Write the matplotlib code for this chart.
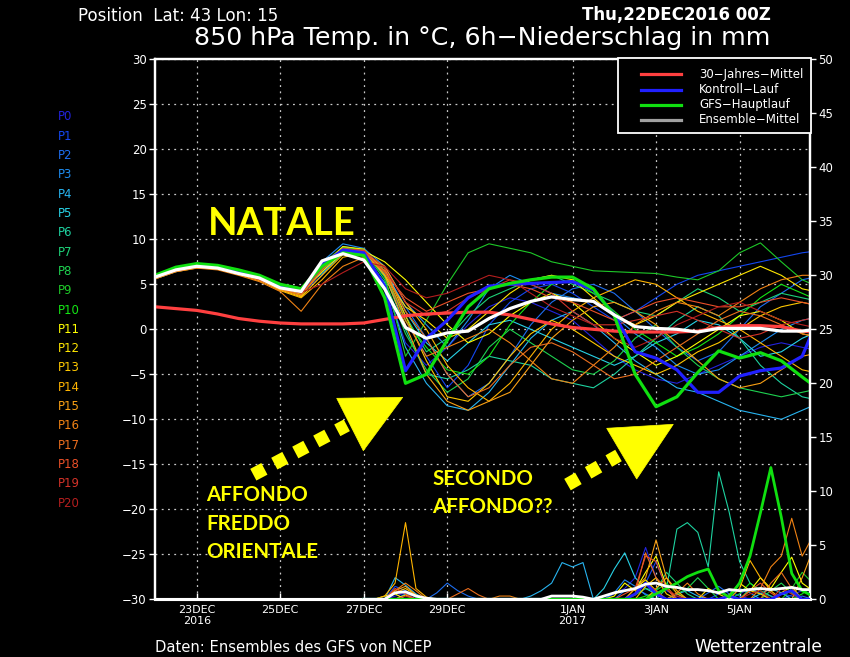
import matplotlib
matplotlib.use("Agg")
import matplotlib.pyplot as plt
from matplotlib.patches import Polygon, Rectangle
from matplotlib.lines import Line2D

W, H = 850, 657

# ---------------- data ----------------
HOURS = list(range(0, 385, 12))          # 12-hourly temperature steps from 22DEC2016 00Z
PRECIP_HOURS = list(range(120, 385, 6))  # 6-hourly precipitation steps

XTICK_HOURS = [24, 72, 120, 168, 240, 288, 336]
XTICK_LABELS = ["23DEC\n2016", "25DEC", "27DEC", "29DEC", "1JAN\n2017", "3JAN", "5JAN"]
YTICKS_T = [-30, -25, -20, -15, -10, -5, 0, 5, 10, 15, 20, 25, 30]
YTICKS_P = [0, 5, 10, 15, 20, 25, 30, 35, 40, 45, 50]

MEMBER_NAMES = ["P0", "P1", "P2", "P3", "P4", "P5", "P6", "P7", "P8", "P9", "P10",
                "P11", "P12", "P13", "P14", "P15", "P16", "P17", "P18", "P19", "P20"]
MEMBER_COLORS = ["#2323DC", "#1447F0", "#1E6EF0", "#1E8CF0", "#28B4F0", "#28D2E6",
                 "#1ED2A0", "#1ED278", "#1ED250", "#1EC828", "#14E614", "#FFFF00",
                 "#FFE600", "#FFC800", "#FFB400", "#FAA014", "#F08214", "#EB6E1E",
                 "#EB5028", "#D23228", "#B41E1E"]

T_P0 = [5.7, 6.5, 6.9, 6.8, 6.3, 5.6, 4.7, 4.0, 6.0, 8.8, 8.5, 5.0,
        -1.5, -4.0, -2.0, 0.5, 2.5, 3.5, 3.0, 2.0, 1.0, -1.0, -3.0, -4.5, -5.5, -6.0, -5.0, -4.0, -3.0, -2.0, -1.5, -2.0, -2.5]
T_P1 = [5.8, 6.6, 7.0, 6.9, 6.4, 5.8, 4.9, 4.4, 7.0, 9.0, 8.7, 6.0,
        1.0, -3.0, -6.5, -4.0, 0.5, 3.0, 4.5, 5.0, 4.0, 2.5, 1.0, 2.0, 3.5, 5.0, 6.0, 6.5, 7.0, 7.5, 8.0, 8.5, 8.8]
T_P2 = [5.9, 6.7, 7.1, 7.0, 6.5, 5.7, 4.6, 3.8, 6.8, 9.2, 8.8, 6.5,
        2.5, -1.0, -5.0, -7.5, -6.0, -3.0, 0.5, 3.0, 4.5, 5.0, 4.0, 2.0, 0.0, -2.0, -3.5, -2.5, 0.0, 2.5, 4.0, 5.5, 6.0]
T_P3 = [5.6, 6.4, 6.9, 6.8, 6.2, 5.5, 4.5, 4.0, 7.5, 9.5, 9.0, 7.0,
        3.0, 0.5, -2.0, 1.0, 4.5, 6.0, 5.0, 4.0, 3.5, 3.0, 1.5, -0.5, -2.0, -4.0, -5.0, -4.5, -3.0, -1.5, 0.0, 1.0, 1.5]
T_P4 = [5.8, 6.5, 6.9, 6.9, 6.4, 5.8, 5.0, 4.5, 6.2, 8.5, 8.2, 5.2,
        -2.0, -6.0, -8.5, -9.0, -7.0, -4.0, -1.0, 1.0, 2.0, 0.5, -1.5, -3.5, -5.0, -6.5, -7.0, -8.0, -9.0, -9.5, -10.0, -9.0, -8.0]
T_P5 = [5.7, 6.5, 7.0, 6.8, 6.3, 5.6, 4.8, 4.2, 6.6, 8.7, 8.4, 6.8,
        2.0, -1.5, -3.5, -1.5, 0.5, 1.0, 0.0, -1.0, -2.0, -3.0, -4.0, -3.0, -1.5, -0.5, 1.0, 0.5, -1.0, -3.0, -2.5, -1.0, 0.0]
T_P6 = [5.9, 6.6, 7.0, 6.9, 6.5, 5.8, 4.9, 4.5, 7.2, 8.9, 8.6, 6.2,
        0.0, -5.0, -5.5, -4.5, -3.0, -3.5, -4.0, -5.5, -6.0, -6.5, -5.0, -3.0, -1.0, 1.0, 2.5, 1.5, -1.0, -4.0, -6.0, -7.5, -8.0]
T_P7 = [5.8, 6.6, 7.1, 7.0, 6.4, 5.7, 4.7, 4.3, 6.9, 9.0, 8.8, 5.8,
        1.5, -2.5, -1.0, 1.5, 3.5, 4.5, 5.5, 6.0, 5.0, 4.0, 3.0, 2.0, 1.5, 3.0, 4.5, 3.5, 2.0, 3.0, 4.0, 3.5, 3.0]
T_P8 = [5.9, 6.7, 7.2, 7.0, 6.5, 5.8, 4.8, 4.4, 6.7, 8.8, 8.7, 5.5,
        -0.5, -4.5, -7.0, -5.5, -2.0, 0.0, -1.5, -3.0, -4.5, -5.0, -3.5, -1.0, 0.5, -2.0, -4.0, -5.5, -6.5, -7.0, -7.5, -7.0, -6.5]
T_P9 = [5.7, 6.6, 7.0, 6.9, 6.3, 5.7, 4.7, 4.2, 6.8, 8.6, 8.5, 6.0,
        -3.0, 1.0, 5.0, 8.5, 9.5, 9.0, 8.5, 7.5, 7.0, 6.5, 6.4, 6.3, 6.2, 5.8, 5.5, 6.5, 8.5, 9.6, 7.5, 5.5, 4.5]
T_P10 = [5.8, 6.7, 7.2, 7.1, 6.6, 5.9, 5.0, 4.6, 7.3, 9.1, 8.9, 6.5,
         1.0, -2.0, -4.5, -5.0, -3.0, 0.5, 3.0, 5.0, 5.5, 4.0, 2.0, 0.0, -1.5, -3.0, -2.0, -0.5, 1.5, 3.5, 5.0, 4.0, 3.0]
T_P11 = [5.8, 6.6, 7.0, 6.9, 6.4, 5.6, 4.5, 3.9, 6.4, 8.5, 8.7, 7.5,
         5.5, 3.0, 0.5, -1.5, -0.5, 1.5, 3.0, 4.0, 3.0, 1.0, -1.0, -2.5, -4.0, -3.0, -1.5, 0.0, 1.5, 2.0, 1.0, -0.5, -1.0]
T_P12 = [5.9, 6.7, 7.1, 7.0, 6.5, 5.7, 4.6, 3.7, 7.0, 9.2, 8.9, 6.0,
         2.5, 1.0, -1.0, 0.0, 2.0, 4.0, 5.5, 6.0, 5.5, 3.5, 1.5, 0.5, 1.5, 3.0, 4.0, 5.0, 6.0, 7.0, 6.0, 4.5, 4.0]
T_P13 = [5.6, 6.4, 6.8, 6.7, 6.1, 5.4, 4.4, 3.6, 6.0, 8.3, 8.4, 6.8,
         1.5, -3.5, -7.5, -8.0, -6.0, -3.0, -0.5, 1.0, 0.0, -1.5, -3.0, -4.0, -5.0, -4.0, -2.5, -1.5, 0.0, 1.5, 2.5, 3.0, 2.5]
T_P14 = [5.7, 6.5, 6.9, 6.8, 6.2, 5.5, 4.3, 3.5, 5.5, 8.0, 8.5, 7.0,
         3.0, 0.0, -4.0, -6.5, -8.0, -6.0, -3.0, 0.0, 2.0, 3.5, 4.5, 5.5, 5.0, 3.5, 2.0, 1.0, 0.0, -1.5, -3.0, -4.5, -5.0]
T_P15 = [5.8, 6.6, 7.0, 6.9, 6.3, 5.5, 4.4, 3.8, 7.2, 8.9, 8.7, 6.0,
         0.5, -5.0, -8.0, -9.0, -8.0, -7.0, -4.0, -1.0, 1.0, 2.5, 3.0, 2.0, 0.5, -1.5, -3.5, -5.5, -6.5, -6.0, -4.5, -3.0, -2.5]
T_P16 = [5.6, 6.4, 6.8, 6.6, 6.0, 5.3, 4.2, 2.0, 5.0, 7.0, 8.0, 6.5,
         1.0, -3.0, -2.0, -1.0, 0.0, -1.5, -3.5, -5.5, -6.0, -4.0, -2.0, 0.5, 2.0, 3.0, 2.5, 1.5, 3.0, 4.5, 5.5, 6.0, 6.0]
T_P17 = [5.7, 6.5, 6.9, 6.8, 6.2, 5.5, 4.5, 3.8, 6.6, 8.8, 8.6, 6.5,
         2.0, -1.0, -5.0, -7.5, -6.5, -4.0, -2.0, -1.5, -2.5, -4.0, -5.5, -5.0, -3.5, -2.0, -0.5, 1.0, 2.0, 1.5, 0.5, -0.5, -1.0]
T_P18 = [5.8, 6.6, 7.0, 6.9, 6.4, 5.7, 4.8, 4.2, 6.9, 9.0, 8.7, 6.3,
         3.5, 2.0, 3.0, 4.0, 4.5, 5.0, 4.5, 3.5, 3.0, 2.0, 1.0, 2.0, 3.0, 3.5, 3.0, 2.5, 2.5, 3.0, 3.5, 3.0, 2.5]
T_P19 = [5.7, 6.5, 6.9, 6.8, 6.2, 5.5, 4.6, 4.0, 6.8, 8.9, 8.8, 6.8,
         3.0, 1.5, 2.0, 3.5, 4.5, 5.5, 5.0, 4.0, 2.0, 0.5, 0.5, 1.0, 1.5, 2.0, 1.0, 0.0, -1.0, -0.5, 0.5, 1.0, 1.5]
T_P20 = [5.8, 6.6, 7.0, 6.9, 6.3, 5.6, 4.7, 4.1, 5.0, 6.3, 7.5, 7.0,
         4.5, 3.5, 4.0, 5.0, 6.0, 5.5, 4.0, 2.5, 1.5, 0.5, -1.0, -2.0, -1.0, 0.5, 1.5, 2.5, 3.0, 2.0, 1.0, 0.5, 0.0]

CLIM_T = [2.5, 2.3, 2.1, 1.7, 1.2, 0.9, 0.7, 0.6, 0.6, 0.6, 0.7, 1.1, 1.5, 1.7, 1.8, 1.9, 1.9,
          1.6, 1.1, 0.6, 0.2, 0.0, -0.2, -0.3, -0.3, -0.3, -0.2, 0.2, 0.4, 0.4, 0.3, -0.2, -0.4]
CTRL_T = [5.9, 6.7, 7.1, 6.9, 6.4, 5.8, 4.8, 4.3, 7.2, 8.8, 8.5, 4.8, -4.6, -1.0, 1.0, 3.5, 4.8,
          5.0, 5.1, 5.2, 5.3, 4.4, 1.6, -2.5, -3.2, -4.5, -7.0, -7.0, -5.2, -4.6, -4.3, -3.0, 2.5]
OPER_T = [6.0, 6.9, 7.3, 7.1, 6.6, 6.0, 5.0, 4.5, 7.0, 8.5, 8.2, 3.5, -6.0, -5.0, -1.2, 2.5, 4.5,
          5.1, 5.5, 5.8, 5.8, 4.5, 1.5, -5.0, -8.6, -7.5, -4.8, -2.4, -3.2, -2.6, -3.5, -5.3, -7.0]
MEAN_T = [5.8, 6.6, 7.0, 6.8, 6.2, 5.7, 4.6, 4.2, 7.6, 8.4, 7.7, 4.5, 0.2, -1.0, -0.4, -0.2, 1.2,
          2.3, 3.1, 3.6, 3.3, 3.1, 1.6, 0.3, 0.1, 0.0, -0.3, 0.1, 0.1, 0.1, -0.2, -0.2, 0.1]

R_P0 = [0, 0, 0, .3, .6, .2, 0, 0, 0, 0,   0, 0, 0, 0, 0, 0, 0, 0, 0, 0,
        0, 0, 0, 0, .5, 1.0, 2.0, 4.8, 2.0, .8,   .3, 0, 0, 0, 0, 0, .5, 1.0, .6, .3,   0, .4, .8, .5, 0]
R_P1 = [0, 0, 0, 1.2, .8, .3, 0, 0, 0, 0,   0, 0, 0, 0, 0, 0, 0, 0, 0, 0,
        0, 0, 0, 0, 0, 0, .5, 1.5, 3.5, 1.0,   0, 0, 0, 0, .5, .8, .3, 0, 0, 0,   .5, .3, 0, 0, 0]
R_P2 = [0, 0, 0, 0, 0, 0, 0, .6, 1.5, .8,   .3, 0, 0, 0, 0, 0, 0, 0, 0, 0,
        0, 0, 0, 0, 0, .8, 1.0, .5, 0, 0,   0, 0, 0, .6, 1.2, .5, 0, 0, 0, 0,   0, 0, .3, 0, 0]
R_P3 = [0, 0, 0, 0, .5, .3, 0, 0, 0, 0,   0, 0, 0, 0, 0, 0, 0, 0, 0, 0,
        0, 0, 0, 0, .6, 1.8, 1.2, .4, 0, 0,   0, 0, 0, 0, 0, .4, 1.0, .6, 0, 0,   0, 0, 0, 0, 0]
R_P4 = [0, 0, 0, 2.0, 1.3, .5, 0, 0, 0, 0,   0, 0, 0, 0, 0, 0, .3, .8, 1.5, 3.4,
        3.0, 3.4, 0, 0, 0, 0, 0, 0, 0, 0,   .5, .8, .3, 0, 0, 0, 0, 0, 0, 0,   0, 0, 0, 0, 0]
R_P5 = [0, 0, 0, 0, 0, 0, 0, 0, 0, 0,   0, 0, 0, 0, 0, 0, 0, 0, 0, 0,
        0, 0, 0, 1.0, 2.8, 4.3, 2.0, 1.0, .5, 0,   0, 0, 0, 0, 0, 0, 0, 0, .5, 1.0,   .6, 0, 0, 0, 0]
R_P6 = [0, 0, 0, 0, 0, 0, 0, 0, 0, 0,   0, 0, 0, 0, 0, 0, 0, 0, 0, 0,
        0, 0, 0, 0, 0, 0, 0, 0, 0, 1.0,   6.5, 7.1, 6.2, 3.0, 11.8, 8.1, 3.5, 1.5, .8, .3,   0, 0, 0, 0, 0]
R_P7 = [0, 0, 0, 0, 0, 0, 0, 0, 0, 0,   0, 0, 0, 0, 0, 0, 0, 0, 0, 0,
        0, 0, 0, 0, 0, 0, .4, 1.0, .8, 2.5,   1.5, .5, 0, 0, 0, 0, 0, 1.0, .5, 0,   0, 0, 0, 0, 0]
R_P8 = [0, 0, 0, 0, 0, 0, 0, 0, 0, 0,   0, 0, 0, 0, 0, 0, 0, 0, 0, 0,
        0, 0, 0, 0, 0, 0, 0, 0, 0, 0,   .5, 1.0, 2.0, 1.0, 0, 0, 0, 0, 0, .8,   1.5, .6, 0, 0, 0]
R_P9 = [0, 0, 0, 0, 0, 0, 0, 0, 0, 0,   0, 0, 0, 0, 0, 0, 0, 0, 0, 0,
        0, 0, 0, 0, 0, 0, 0, 0, .8, 1.5,   .6, 0, 0, 0, 0, 0, 0, 0, 0, 0,   0, 1.0, 2.5, 1.5, 0]
R_P10 = [0, 0, 0, 0, 0, 0, 0, 0, 0, 0,   0, 0, 0, 0, 0, 0, 0, 0, 0, 0,
         0, 0, 0, 0, 0, 0, 0, .3, .6, 0,   0, 0, 0, 0, 0, 0, .5, 1.5, .8, 0,   0, 0, .5, 1.2, 0]
R_P11 = [0, 0, .3, .5, 0, 0, 0, 0, 0, 0,   0, 0, 0, 0, 0, 0, 0, 0, 0, 0,
         0, 0, 0, 0, .3, 1.5, .8, 2.5, 4.0, 1.2,   0, 0, 0, 0, 0, .4, 1.5, .8, 2.0, 1.0,   2.5, 3.9, 1.5, .8, 0]
R_P12 = [0, 0, 0, 0, .4, 0, 0, 0, 0, 0,   0, 0, 0, 0, 0, 0, 0, 0, 0, 0,
         0, 0, 0, 0, 0, 0, 1.0, 1.8, .8, 0,   0, 0, 0, 1.0, .5, 0, 0, 0, 0, 0,   .6, 1.2, 0, 0, 0]
R_P13 = [0, 0, 0, .6, 1.0, .4, 0, 0, 0, 0,   0, 0, 0, 0, 0, 0, 0, 0, 0, 0,
         0, 0, 0, 0, 0, 0, 0, 1.2, 2.0, .5,   0, 0, 0, 0, 0, 0, 0, .8, .5, 0,   0, 0, 0, 0, 0]
R_P14 = [0, 0, .3, 1.5, 7.1, 1.0, .2, 0, 0, 0,   0, 0, 0, 0, 0, 0, 0, 0, 0, 0,
         0, 0, 0, 0, 0, 0, 0, 0, 1.0, 2.0,   .8, 0, 0, 0, 0, 0, 1.0, 3.6, 2.0, .8,   0, 0, 0, 0, 0]
R_P15 = [0, 0, 0, .8, 1.2, .4, 0, 0, 0, 0,   0, 0, 0, 0, 0, 0, 0, 0, 0, 0,
         0, 0, 0, 0, 0, 0, 1.0, 2.0, 5.5, 2.0,   .5, 0, 0, 0, 0, 0, 0, 0, 0, 0,   0, 0, 2.0, 4.5, 0]
R_P16 = [0, 0, 0, .8, 1.5, .8, 0, 0, 0, 0,   0, 0, 0, .3, .3, 0, 0, 0, 0, 0,
         0, 0, 0, 0, 0, 0, 0, 0, 0, 0,   .6, 1.5, .5, 0, 0, 0, 0, 0, 1.0, 3.0,   4.0, 7.5, 4.0, 5.8, 0]
R_P17 = [0, 0, 0, 0, 0, 0, 0, 0, 0, .5,   1.0, .4, 0, 0, 0, 0, 0, 0, 0, 0,
         0, 0, 0, 0, 0, 0, .5, 4.3, 2.0, 1.0,   0, 0, 0, 0, 0, 0, 0, 0, 0, 1.5,   2.5, 1.0, 0, 0, 0]
R_P18 = [0, 0, 0, 1.0, .5, 0, 0, 0, 0, 0,   0, 0, 0, 0, 0, 0, 0, 0, 0, 0,
         0, 0, 0, 0, 0, .5, 1.0, 4.0, 3.5, 1.0,   0, 0, 0, 0, 0, 0, 0, .8, 1.5, .6,   0, 0, 0, 0, 0]
R_P19 = [0, 0, 0, 0, .3, 0, 0, 0, 0, 0,   0, 0, 0, 0, 0, 0, 0, 0, 0, 0,
         0, 0, 0, 0, 0, 0, .4, 1.5, .8, 0,   0, 0, 0, 0, 0, 0, 0, 0, 0, 0,   1.0, .5, 0, 0, 0]
R_P20 = [0, 0, 0, 0, 0, 0, 0, 0, 0, 0,   0, 0, 0, 0, 0, 0, 0, 0, 0, 0,
         0, 0, 0, 0, 0, 0, 0, 0, .5, 1.0,   .3, 0, 0, 0, 0, 0, 0, .5, .8, 0,   0, 0, 0, 0, 0]
CTRL_R = [0, 0, 0, 0, 0, 0, 0, 0, 0, 0,   0, 0, 0, 0, 0, 0, 0, 0, 0, 0,
          0, 0, 0, 0, 0, 0, .5, 1.5, .5, 0,   0, 0, 0, 0, 0, .3, 0, 0, 0, 0,   .5, .8, 0, 0, 0]
OPER_R = [0, 0, 0, 0, 0, 0, 0, 0, 0, 0,   0, 0, 0, 0, 0, 0, 0, 0, 0, 0,
          0, 0, 0, 0, 0, 0, 0, 0, .5, 1.0,   1.5, 2.1, 2.5, 2.8, .8, .2, 1.5, 4.0, 8.0, 12.2,   7.6, 2.4, .8, .3, 0]
MEAN_R = [0, 0, 0, .6, .7, .3, .1, 0, 0, 0,   0, 0, 0, 0, 0, 0, 0, 0, .3, .3,
          .3, .2, 0, .3, .6, .8, 1.0, 1.4, 1.5, 1.2,   1.1, .9, .9, .8, .6, .9, .8, .9, 1.0, .9,   1.0, 1.1, .9, .9, .8]

T_MEMBERS = [T_P0, T_P1, T_P2, T_P3, T_P4, T_P5, T_P6, T_P7, T_P8, T_P9, T_P10,
             T_P11, T_P12, T_P13, T_P14, T_P15, T_P16, T_P17, T_P18, T_P19, T_P20]
R_MEMBERS = [R_P0, R_P1, R_P2, R_P3, R_P4, R_P5, R_P6, R_P7, R_P8, R_P9, R_P10,
             R_P11, R_P12, R_P13, R_P14, R_P15, R_P16, R_P17, R_P18, R_P19, R_P20]

LEGEND_LABELS = ["30\u2212Jahres\u2212Mittel", "Kontroll\u2212Lauf", "GFS\u2212Hauptlauf", "Ensemble\u2212Mittel"]
LEGEND_COLORS = ["#FF4040", "#2020FF", "#10E010", "#A0A0A0"]

# ---------------- figure ----------------
def fx(x):
    return x / W


def fy(y):
    return 1 - y / H


fig = plt.figure(figsize=(W / 100, H / 100), dpi=100, facecolor="black")
ax = fig.add_axes([fx(155), fy(599.3), 655 / W, 540 / H])
ax.set_facecolor("black")
ax.set_xlim(0, 376.5)
ax.set_ylim(-30, 30)

for temps, col in zip(T_MEMBERS, MEMBER_COLORS):
    ax.plot(HOURS, temps, color=col, lw=0.8, zorder=2)
ax.plot(HOURS, CLIM_T, color="#FF4040", lw=2.3, zorder=3)
ax.plot(HOURS, CTRL_T, color="#2020FF", lw=2.3, zorder=4)
ax.plot(HOURS, OPER_T, color="#10E010", lw=2.3, zorder=5)
ax.plot(HOURS, MEAN_T, color="white", lw=2.3, zorder=6)

ax.set_xticks(XTICK_HOURS)
ax.set_xticklabels(XTICK_LABELS)
ax.set_yticks(YTICKS_T)
ax.tick_params(axis="x", colors="white", direction="in", length=4, width=1, labelsize=8, pad=4)
ax.tick_params(axis="y", colors="white", direction="out", length=4, width=1, labelsize=8.5, pad=2)
ax.grid(True, color="#C8C8C8", linestyle=(0, (1.5, 3.5)), linewidth=0.9)

ax2 = ax.twinx()
ax2.set_ylim(0, 50)
ax2.set_yticks(YTICKS_P)
ax2.tick_params(axis="y", colors="white", direction="out", length=4, width=1, labelsize=8.5, pad=2)
for rain, col in zip(R_MEMBERS, MEMBER_COLORS):
    ax2.plot(PRECIP_HOURS, rain, color=col, lw=0.8, zorder=2)
ax2.plot(PRECIP_HOURS, CTRL_R, color="#2020FF", lw=2.0, zorder=3)
ax2.plot(PRECIP_HOURS, OPER_R, color="#10E010", lw=2.0, zorder=4)
ax2.plot(PRECIP_HOURS, MEAN_R, color="white", lw=2.0, zorder=5)

for a in (ax, ax2):
    for side, sp in a.spines.items():
        sp.set_color("white")
        sp.set_linewidth(1.6)
    a.spines["bottom"].set_linewidth(2.2)

# legend box
fig.add_artist(Rectangle((fx(618), fy(133)), (811 - 618) / W, (133 - 58) / H,
                         transform=fig.transFigure, facecolor="black", edgecolor="white",
                         lw=1.3, zorder=6))
for i, (lab, col) in enumerate(zip(LEGEND_LABELS, LEGEND_COLORS)):
    yy = 74.3 + i * 15.2
    fig.add_artist(Line2D([fx(641), fx(681)], [fy(yy), fy(yy)], transform=fig.transFigure,
                          color=col, lw=2.3, zorder=7))
    fig.text(fx(699), fy(yy), lab, color="white", fontsize=8.5, va="center", ha="left", zorder=7)

# member names on the left
for i, (name, col) in enumerate(zip(MEMBER_NAMES, MEMBER_COLORS)):
    fig.text(fx(58), fy(116.7 + i * 19.33), name, color=col, fontsize=8.5, va="center", ha="left")

# titles
fig.text(fx(78), fy(16), "Position  Lat: 43 Lon: 15", color="white", fontsize=12, va="center", ha="left")
fig.text(fx(771), fy(15), "Thu,22DEC2016 00Z", color="white", fontsize=12, fontweight="bold",
         va="center", ha="right")
fig.text(fx(482), fy(38), "850 hPa Temp. in \u00b0C, 6h\u2212Niederschlag in mm", color="white",
         fontsize=18.2, va="center", ha="center")
fig.text(fx(155), fy(647), "Daten: Ensembles des GFS von NCEP", color="white", fontsize=10.6,
         va="center", ha="left")
fig.text(fx(822), fy(647), "Wetterzentrale", color="white", fontsize=12.3, va="center", ha="right")

# annotations
YEL = "#FFFF00"
fig.text(fx(208), fy(235), "NATALE", color=YEL, fontsize=27.5, fontweight="bold", family="Lato",
         va="baseline", ha="left", zorder=10)
for txt, yb in (("AFFONDO", 501), ("FREDDO", 530), ("ORIENTALE", 558)):
    fig.text(fx(206), fy(yb), txt, color=YEL, fontsize=14.8, fontweight="bold", family="Lato",
             va="baseline", ha="left", zorder=10)
for txt, yb in (("SECONDO", 485), ("AFFONDO??", 513)):
    fig.text(fx(432), fy(yb), txt, color=YEL, fontsize=14.8, fontweight="bold", family="Lato",
             va="baseline", ha="left", zorder=10)

for pts in ([(336.7, 398.3), (402.7, 397.3), (363.3, 450.7)],
            [(606.7, 428.3), (673.3, 424.3), (636.7, 479.0)]):
    fig.add_artist(Polygon([(fx(x), fy(y)) for x, y in pts], closed=True,
                           transform=fig.transFigure, facecolor=YEL, edgecolor=YEL, lw=0.5, zorder=10))
for (x0, y0), (x1, y1) in (((253.3, 474.7), (346.8, 425.3)), ((567.5, 484.6), (618.5, 455.5))):
    fig.add_artist(Line2D([fx(x0), fx(x1)], [fy(y0), fy(y1)], transform=fig.transFigure,
                          color=YEL, lw=9.5, linestyle=(0, (0.95, 0.85)), dash_capstyle="butt",
                          zorder=10))

fig.savefig("out.png", dpi=100, facecolor="black")
